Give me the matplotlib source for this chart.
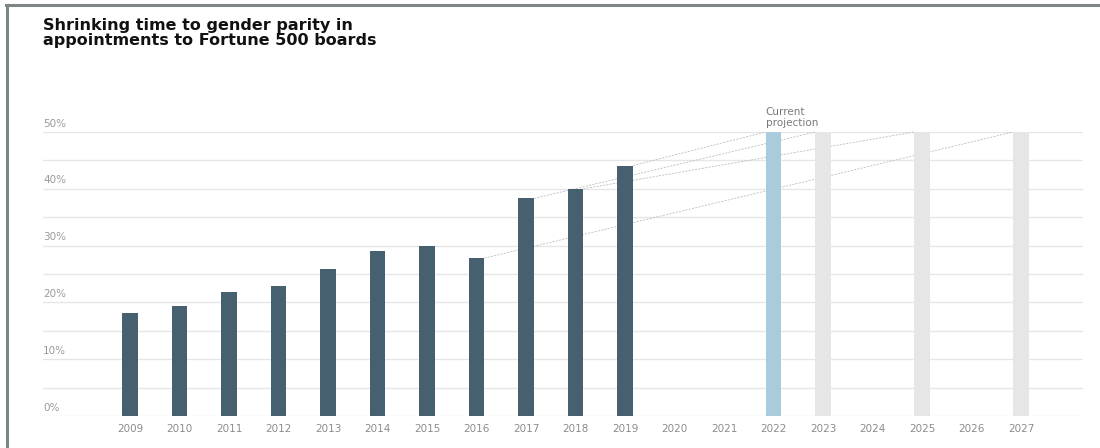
import numpy as np
import matplotlib.pyplot as plt
from matplotlib.lines import Line2D
import matplotlib.transforms as mtransforms

# data
actual_years = [2009, 2010, 2011, 2012, 2013, 2014, 2015, 2016, 2017, 2018, 2019]
actual_vals = [18.1, 19.4, 21.8, 22.8, 25.9, 29.1, 29.9, 27.8, 38.3, 40.0, 44.1]
current_year = [2022]
current_val = [50]
other_proj_years = [2023, 2025, 2027]
other_proj_vals = [50, 50, 50]
# dashed projection lines: start year -> year parity is reached
proj_from = [2016, 2017, 2018, 2019]
proj_to = [2027, 2023, 2025, 2022]
all_years = list(range(2009, 2028))
y_ticks = [0, 10, 20, 30, 40, 50]

dark = '#46606f'
light_blue = '#a9cbdb'
light_grey = '#e6e6e6'
grid_c = '#e6e6e6'
text_c = '#8c8c8c'
bw = 0.32

fig = plt.figure(figsize=(11, 4.48), dpi=100)
ax = fig.add_axes([43 / 1100, 1 - 416 / 448, 1040 / 1100, 284 / 448])

ax.bar(actual_years, actual_vals, width=bw, color=dark, zorder=3)
ax.bar(current_year, current_val, width=bw, color=light_blue, zorder=3)
ax.bar(other_proj_years, other_proj_vals, width=bw, color=light_grey, zorder=3)

vals = dict(zip(actual_years, actual_vals))
for a, b in zip(proj_from, proj_to):
    ax.plot([a + bw / 2, b - bw / 2], [vals[a], 50], color='#bdbdbd',
            lw=0.6, ls=(0, (2.5, 1.5)), zorder=2, clip_on=False)

ax.set_xlim(2009 - 87 / 49.5, 2027 + 62 / 49.5)
ax.set_ylim(0, 50)
ax.set_yticks(np.arange(0, 51, 5))
ax.set_yticklabels([])
ax.grid(axis='y', color=grid_c, lw=1, zorder=0)
ax.set_axisbelow(True)
for s in ax.spines.values():
    s.set_visible(False)
ax.tick_params(length=0)

ax.set_xticks(all_years)
ax.set_xticklabels([str(y) for y in all_years], color=text_c, fontsize=7.5)
ax.tick_params(axis='x', pad=6)

trans = mtransforms.offset_copy(ax.get_yaxis_transform(), fig=fig, x=0, y=2.5, units='points')
for t in y_ticks:
    ax.text(0, t, f'{t}%', transform=trans, ha='left', va='bottom',
            color='#9a9a9a', fontsize=7.5)

ax.text(2022 - bw / 2, 50, 'Current\nprojection', ha='left', va='bottom',
        color='#7a7a7a', fontsize=7.5, linespacing=1.1,
        transform=mtransforms.offset_copy(ax.transData, fig=fig, x=0, y=3, units='points'))

fig.text(43 / 1100, 1 - 18 / 448, 'Shrinking time to gender parity in\nappointments to Fortune 500 boards',
         ha='left', va='top', fontsize=11.5, fontweight='bold', color='#111111', linespacing=0.98)

# frame of the screenshot
fig.add_artist(Line2D([6 / 1100, 1], [1 - 5 / 448, 1 - 5 / 448], color='#7d8787', lw=2.2))
fig.add_artist(Line2D([7 / 1100, 7 / 1100], [0, 1 - 5 / 448], color='#7d8787', lw=2.2))

plt.savefig('out.png', dpi=100)
